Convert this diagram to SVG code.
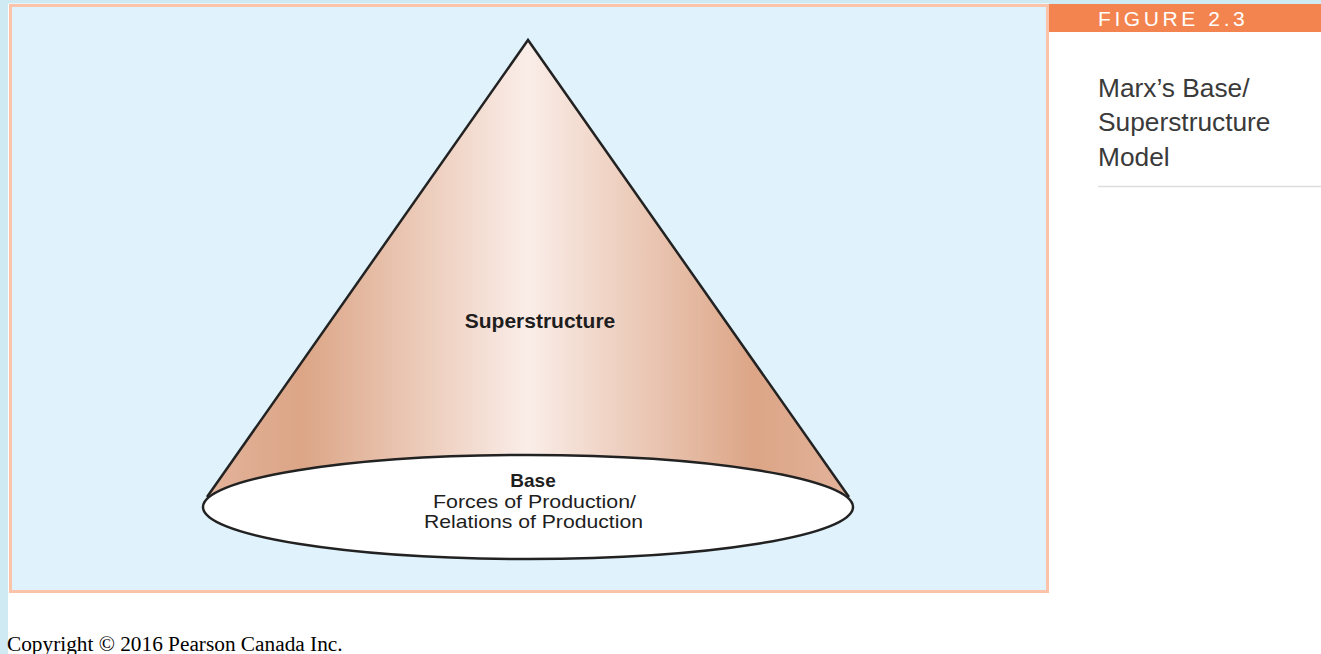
<svg xmlns="http://www.w3.org/2000/svg" width="1321" height="654" viewBox="0 0 1321 654">
<defs>
<style>
.lbl{font-family:"Liberation Sans",Arial,sans-serif;fill:#1e1e1e;text-anchor:middle}
.b{font-weight:bold}
.side{font-family:"Liberation Sans",Arial,sans-serif;fill:#3a3a3a;font-size:26.3px}
.edge{stroke:#222;stroke-width:2.5;stroke-linejoin:miter}
</style>
<linearGradient id="coneGrad" gradientUnits="userSpaceOnUse" x1="205" y1="0" x2="851" y2="0">
<stop offset="0" stop-color="#e2b39b"/>
<stop offset="0.15" stop-color="#dca586"/>
<stop offset="0.5" stop-color="#faede8"/>
<stop offset="0.85" stop-color="#dca586"/>
<stop offset="1" stop-color="#e2b39b"/>
</linearGradient>
</defs>
<rect x="0" y="0" width="1321" height="654" fill="#ffffff"/>
<rect x="0" y="0" width="1321" height="4" fill="#d0eaf4"/>
<rect x="0" y="0" width="8" height="654" fill="#d0eaf4"/>
<g id="panel">
<rect x="8.5" y="3.5" width="1041" height="590" fill="#ffffff"/>
<rect x="10.5" y="5.5" width="1037" height="586" fill="#e0f3fc" stroke="#fcc3ab" stroke-width="3"/>
</g>
<g id="figure-header">
<rect x="1049" y="4" width="272" height="28" fill="#f4844f"/>
<text x="1098" y="26" font-family="'Liberation Sans',Arial,sans-serif" font-size="21" fill="#ffffff" letter-spacing="3.6">FIGURE 2.3</text>
</g>
<g id="figure-title">
<text class="side" x="1098" y="97">Marx’s Base/</text>
<text class="side" x="1098" y="131">Superstructure</text>
<text class="side" x="1098" y="166">Model</text>
<line x1="1098" y1="186.5" x2="1321" y2="186.5" stroke="#dddddd" stroke-width="1.5"/>
</g>
<g id="superstructure">
<polygon points="528,40 207,497 849,497" fill="url(#coneGrad)"/>
<path class="edge" fill="none" d="M207,497 L528,40 L849,497"/>
<text class="lbl b" x="540" y="328" font-size="21">Superstructure</text>
</g>
<g id="base">
<ellipse cx="528" cy="507" rx="325" ry="52" fill="#ffffff" class="edge"/>
<text class="lbl b" x="533" y="487" font-size="19">Base</text>
<text class="lbl" x="534.5" y="507.5" font-size="18.5" fill="#333" textLength="203" lengthAdjust="spacingAndGlyphs">Forces of Production/</text>
<text class="lbl" x="533.5" y="528" font-size="18.5" fill="#333" textLength="219" lengthAdjust="spacingAndGlyphs">Relations of Production</text>
</g>
<text x="7" y="651" font-family="'Liberation Serif','Times New Roman',serif" font-size="21.3" fill="#000">Copyright © 2016 Pearson Canada Inc.</text>
</svg>
